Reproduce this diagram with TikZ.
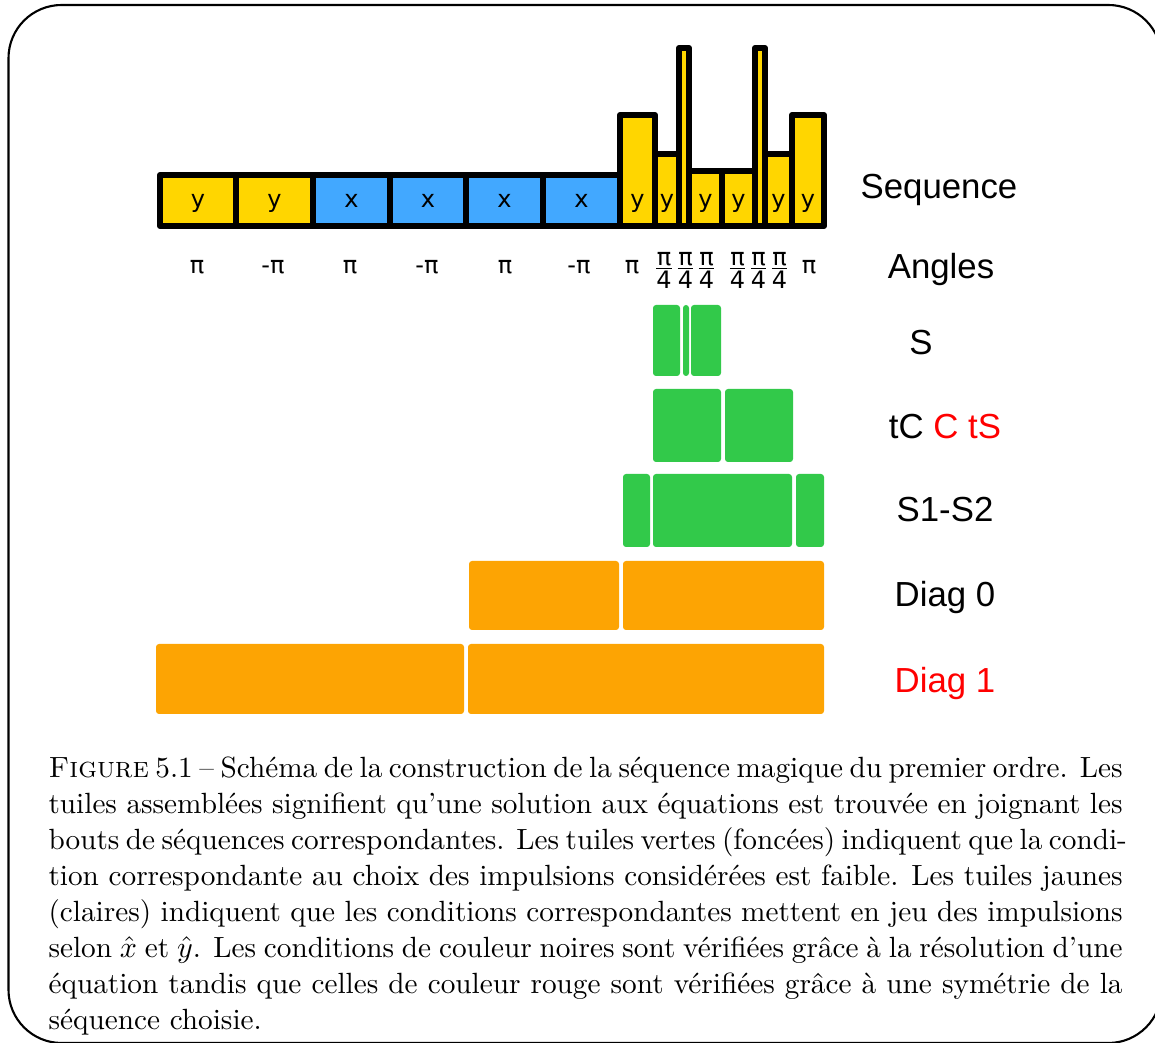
\documentclass[tikz,border=0pt]{standalone}
\usepackage{fontspec}
\usepackage{xcolor}
\usepackage{tikz}
\usetikzlibrary{positioning}
\newfontfamily\labelfont{Liberation Sans}
\newfontfamily\glyphfont{DejaVu Sans}
\definecolor{pulseyellow}{RGB}{255,214,0}
\definecolor{pulseblue}{RGB}{66,168,255}
\definecolor{tilegreen}{RGB}{50,201,74}
\definecolor{tileorange}{RGB}{253,164,3}
\definecolor{condred}{RGB}{255,0,0}
\newcommand{\capline}[1]{\makebox[358pt][s]{#1}}
\tikzset{
  ybar/.style={draw=black, fill=pulseyellow, line width=2pt, line join=round},
  xbar/.style={draw=black, fill=pulseblue, line width=2pt, line join=round},
  greentile/.style={fill=tilegreen, rounded corners=1pt},
  orangetile/.style={fill=tileorange, rounded corners=1pt},
  pulselabel/.style={font=\glyphfont\fontsize{8}{9}\selectfont, anchor=base, inner sep=0pt},
  anglelabel/.style={font=\glyphfont\fontsize{8}{9}\selectfont, inner sep=0pt},
  rowlabel/.style={font=\labelfont\fontsize{11.6}{14}\selectfont, anchor=base, inner sep=0pt},
  captionbox/.style={align=left, inner sep=0pt, font=\fontsize{9.75}{12}\selectfont}
}

\begin{document}
\begin{tikzpicture}[x=0.33333pt, y=-0.33333pt]
    \useasboundingbox (0,0) rectangle (1155,1043);
    \draw[line width=0.7pt, rounded corners=17.7pt] (8.5,5) rectangle (1161.5,1043);

    \foreach \xa/\xb in {160/236, 236/313}
      \draw[ybar] (\xa,175) rectangle (\xb,226);
    \foreach \xa/\xb in {313/390, 390/466, 466/543, 543/620}
      \draw[xbar] (\xa,175) rectangle (\xb,226);
    \foreach \xa/\xb/\ytop in {620/655/115, 655/679/154, 679/689/48, 689/722/171, 722/755/171, 755/765/48, 765/792/154, 792/824/115}
      \draw[ybar] (\xa,\ytop) rectangle (\xb,226);

    \foreach \xc/\txt [count=\i] in {198/y, 274.5/y, 351.5/x, 428/x, 504.5/x, 581.5/x, 637.5/y, 667/y, 705.5/y, 738.5/y, 778.5/y, 808/y}
      \node[pulselabel] (pulse\i) at (\xc,208) {\txt};

    \foreach \xc/\txt [count=\i] in {197/π, 273/-π, 350/π, 427/-π, 505/π, 579/-π, 632/π, 809/π}
      \node[anglelabel] (ang\i) at (\xc,267) {\txt};
    \foreach \xc [count=\i] in {664, 685.5, 706.5, 737.5, 758.5, 779.5}
      \node[anglelabel] (quarter\i) at (\xc,270) {$\frac{\hbox{π}}{\hbox{4}}$};

    \fill[greentile] (653,305) rectangle (680,376);
    \fill[greentile] (683,305) rectangle (689,376);
    \fill[greentile] (691,305) rectangle (721,376);
    \fill[greentile] (653,389) rectangle (721,462);
    \fill[greentile] (725,389) rectangle (793,462);
    \fill[greentile] (623,474) rectangle (650,547);
    \fill[greentile] (653,474) rectangle (792,547);
    \fill[greentile] (796,474) rectangle (824,547);
    \fill[orangetile] (469,561) rectangle (619,630);
    \fill[orangetile] (623,561) rectangle (824,630);
    \fill[orangetile] (156,644) rectangle (464,714);
    \fill[orangetile] (468,644) rectangle (824,714);

    \node[rowlabel] (seq) at (939,199) {Sequence};
    \node[rowlabel] (angles) at (941,279) {Angles};
    \node[rowlabel] (sym) at (921,355) {S};
    \node[rowlabel] (tcts) at (945,439) {tC \textcolor{condred}{C tS}};
    \node[rowlabel] (s1s2) at (945,522) {S1-S2};
    \node[rowlabel] (diag0) at (945,607) {Diag 0};
    \node[rowlabel, text=condred] (diag1) at (945,693) {Diag 1};

    \node[captionbox, anchor=north west] (cap) at (48,756) {%
    \capline{\textsc{Figure} 5.1 -- Schéma de la construction de la séquence magique du premier ordre. Les}\\
    \capline{tuiles assemblées signifient qu'une solution aux équations est trouvée en joignant les}\\
    \capline{bouts de séquences correspondantes. Les tuiles vertes (foncées) indiquent que la condi-}\\
    \capline{tion correspondante au choix des impulsions considérées est faible. Les tuiles jaunes}\\
    \capline{(claires) indiquent que les conditions correspondantes mettent en jeu des impulsions}\\
    \capline{selon $\hat{x}$ et $\hat{y}$. Les conditions de couleur noires sont vérifiées grâce à la résolution d'une}\\
    \capline{équation tandis que celles de couleur rouge sont vérifiées grâce à une symétrie de la}\\
    séquence choisie.};
  \end{tikzpicture}
\end{document}
